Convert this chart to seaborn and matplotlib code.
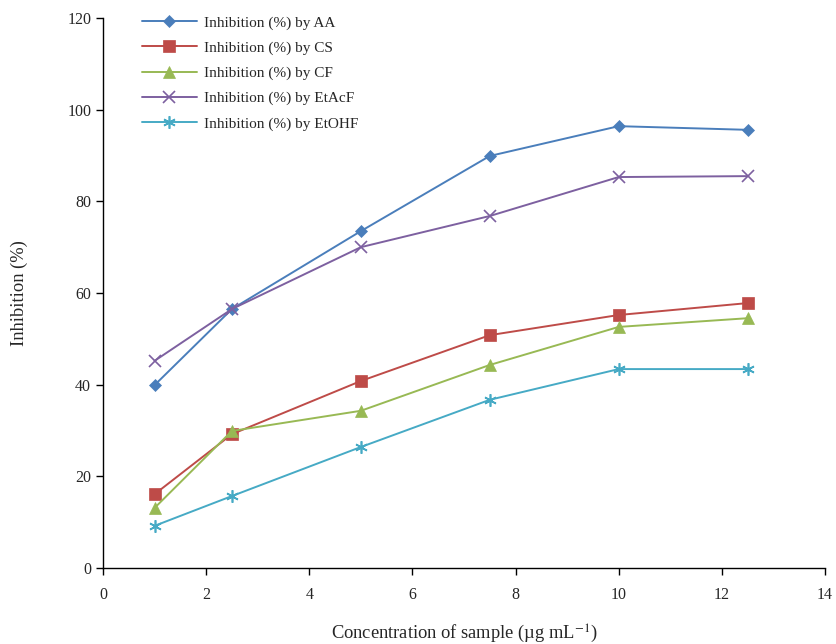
import matplotlib
matplotlib.use('Agg')
import matplotlib.pyplot as plt
import seaborn as sns
import pandas as pd

# datos
conc = [1, 2.5, 5, 7.5, 10, 12.5]
aa = [39.9, 56.5, 73.5, 89.9, 96.4, 95.6]
cs = [16.1, 29.2, 40.8, 50.8, 55.2, 57.8]
cf = [13.1, 29.9, 34.3, 44.3, 52.6, 54.5]
etacf = [45.2, 56.5, 70.0, 76.8, 85.3, 85.5]
etohf = [9.2, 15.7, 26.4, 36.7, 43.4, 43.4]

series = ['Inhibition (%) by AA', 'Inhibition (%) by CS', 'Inhibition (%) by CF',
          'Inhibition (%) by EtAcF', 'Inhibition (%) by EtOHF']
values = [aa, cs, cf, etacf, etohf]

colors = ['#4a7ebb', '#be4b48', '#98b954', '#7d60a0', '#46aac5']
markers = ['D', 's', '^', 'x', (6, 2, 0)]
msizes = [6, 9, 8, 9, 9]

sns.set_style('white')
plt.rcParams['font.family'] = ['Liberation Serif', 'DejaVu Serif']
plt.rcParams['mathtext.fontset'] = 'stix'
plt.rcParams['font.size'] = 11

fig = plt.figure(figsize=(8.37, 6.44), dpi=100)
ax = fig.add_axes([103 / 837, 76 / 644, 722 / 837, 550 / 644])

for name, vals, c, m, ms in zip(series, values, colors, markers, msizes):
    df = pd.DataFrame({'x': conc, 'y': vals})
    sns.lineplot(data=df, x='x', y='y', ax=ax, color=c, marker=m, markersize=ms,
                 markeredgecolor=c, markeredgewidth=1.2 if m == 'x' or isinstance(m, tuple) else 0.5,
                 linewidth=1.4, label=name)

ax.set_xlim(0, 14)
ax.set_ylim(0, 120)
ax.set_xticks(range(0, 15, 2))
ax.set_yticks(range(0, 121, 20))
ax.set_xlabel('Concentration of sample (µg mL$^{-1}$)', fontsize=13.3, va='center')
ax.xaxis.set_label_coords(0.5, -0.12)
ax.set_ylabel('Inhibition (%)', fontsize=13.3, labelpad=28)

for s in ['top', 'right']:
    ax.spines[s].set_visible(False)
for s in ['left', 'bottom']:
    ax.spines[s].set_color('black')
    ax.spines[s].set_linewidth(1.0)
ax.tick_params(axis='both', direction='out', length=5, width=1, color='black',
               labelsize=11.5, bottom=True, left=True)
ax.tick_params(axis='x', pad=9)

ax.legend(loc='upper left', bbox_to_anchor=(134 / 837, 1 - 8 / 644), bbox_transform=fig.transFigure,
          frameon=False, borderpad=0, handlelength=3.6, handletextpad=0.45, labelspacing=0.75,
          fontsize=11)

fig.savefig('out.png', dpi=100)
